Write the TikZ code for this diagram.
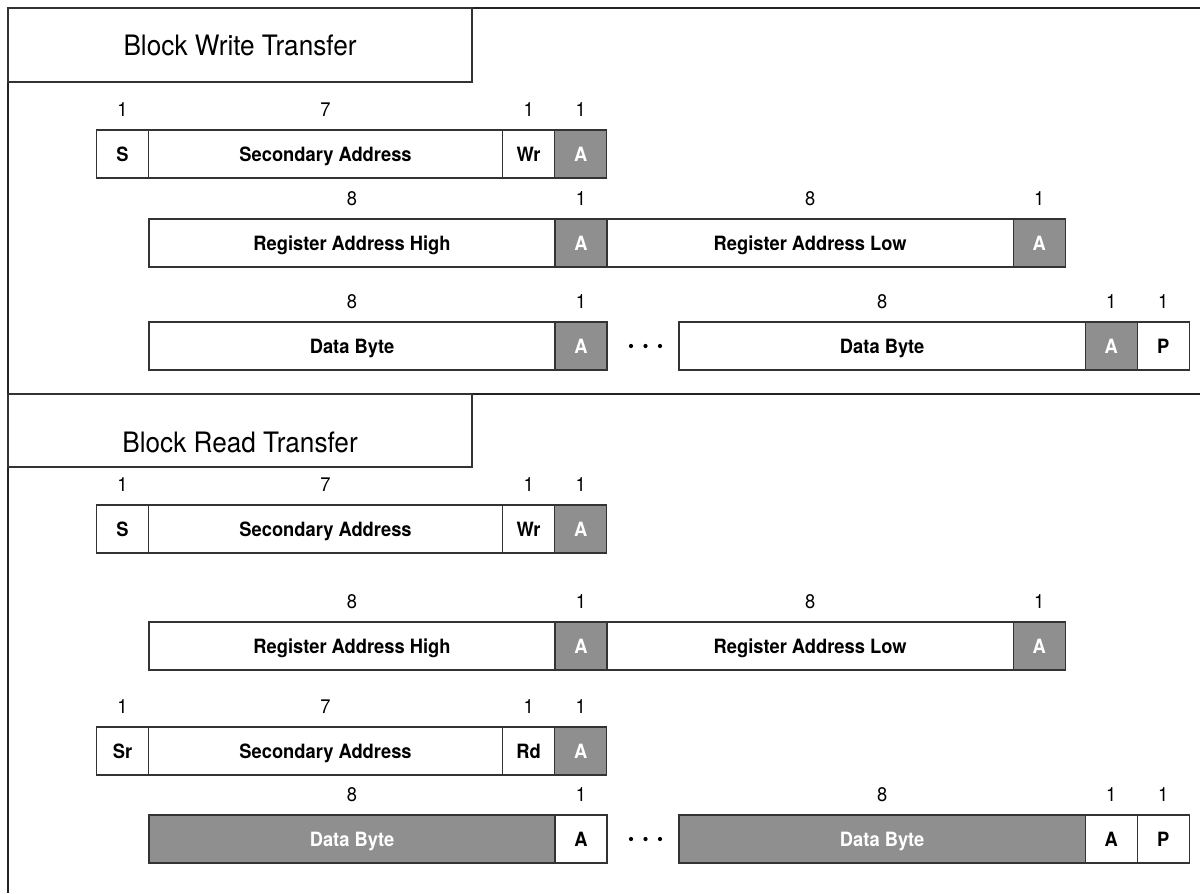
\documentclass[tikz,border=0pt]{standalone}
\usepackage{fontspec}
\setmainfont{TeX Gyre Heros}[FakeStretch=0.93]
\usetikzlibrary{positioning}
\definecolor{frameline}{HTML}{222222}
\definecolor{boxline}{HTML}{333333}
\definecolor{ackgray}{HTML}{8F8F8F}
\tikzset{
  field/.style={rectangle,draw=boxline,line width=0.9pt,fill=white,inner sep=0pt,outer sep=0pt,minimum height=1.2cm,text depth=0pt,font=\fontsize{14}{16}\selectfont\bfseries,text=black},
  shaded/.style={field,fill=ackgray,text=white},
  onebit/.style={minimum width=1.3cm},
  sevenbits/.style={minimum width=8.85cm},
  eightbits/.style={minimum width=10.15cm},
  bitcount/.style={inner sep=0pt,font=\fontsize{14}{16}\selectfont},
  heading/.style={rectangle,draw=boxline,line width=0.9pt,inner sep=0pt,outer sep=0pt,minimum width=11.6cm,text depth=0pt,font=\fontsize{20}{22}\selectfont},
  frame/.style={line width=1.5pt,frameline}
}

\begin{document}
\begin{tikzpicture}[x=0.025cm,y=-0.025cm]
  \useasboundingbox (0,0) rectangle (1200,893);
  \draw[frame] (1200,8) -- (8,8) -- (8,893);
  \draw[frame] (8,394) -- (1200,394);

  % write transfer
  \node[heading,minimum height=1.85cm] (wtitle) at (240,45) {Block Write Transfer};
  \node[field,onebit] (ws) at (122.5,154) {S};
  \node[field,sevenbits,right=0pt of ws] (wsa) {Secondary Address};
  \node[field,onebit,right=0pt of wsa] (wwr) {Wr};
  \node[shaded,onebit,right=0pt of wwr] (wa1) {A};

  \node[field,eightbits] (wrh) at (352,243) {Register Address High};
  \node[shaded,onebit,right=0pt of wrh] (wa2) {A};
  \node[field,eightbits,right=0pt of wa2] (wrl) {Register Address Low};
  \node[shaded,onebit,right=0pt of wrl] (wa3) {A};

  \node[field,eightbits] (wd1) at (352,346) {Data Byte};
  \node[shaded,onebit,right=0pt of wd1] (wa4) {A};
  \node[field,eightbits,right=1.8cm of wa4] (wd2) {Data Byte};
  \node[shaded,onebit,right=0pt of wd2] (wa5) {A};
  \node[field,onebit,right=0pt of wa5] (wp) {P};
  \foreach \x in {631,645.5,660} \fill (\x,346) circle (1.5pt);

  \foreach \b/\n in {ws/1,wsa/7,wwr/1,wa1/1,wrh/8,wa2/1,wrl/8,wa3/1,wd1/8,wa4/1,wd2/8,wa5/1,wp/1}
    \node[bitcount,above=0.33cm of \b] (\b-n) {\n};

  % read transfer
  \node[heading,minimum height=1.825cm,text height=1.1cm] (rtitle) at (240,430.5) {Block Read Transfer};
  \node[field,onebit] (rs) at (122.5,529) {S};
  \node[field,sevenbits,right=0pt of rs] (rsa) {Secondary Address};
  \node[field,onebit,right=0pt of rsa] (rwr) {Wr};
  \node[shaded,onebit,right=0pt of rwr] (ra1) {A};

  \node[field,eightbits] (rrh) at (352,646) {Register Address High};
  \node[shaded,onebit,right=0pt of rrh] (ra2) {A};
  \node[field,eightbits,right=0pt of ra2] (rrl) {Register Address Low};
  \node[shaded,onebit,right=0pt of rrl] (ra3) {A};

  \node[field,onebit] (rsr) at (122.5,751) {Sr};
  \node[field,sevenbits,right=0pt of rsr] (rsa2) {Secondary Address};
  \node[field,onebit,right=0pt of rsa2] (rrd) {Rd};
  \node[shaded,onebit,right=0pt of rrd] (ra4) {A};

  \node[shaded,eightbits] (rd1) at (352,839) {Data Byte};
  \node[field,onebit,right=0pt of rd1] (ra5) {A};
  \node[shaded,eightbits,right=1.8cm of ra5] (rd2) {Data Byte};
  \node[field,onebit,right=0pt of rd2] (ra6) {A};
  \node[field,onebit,right=0pt of ra6] (rp) {P};
  \foreach \x in {631,645.5,660} \fill (\x,839) circle (1.5pt);

  \foreach \b/\n in {rs/1,rsa/7,rwr/1,ra1/1,rrh/8,ra2/1,rrl/8,ra3/1,rsr/1,rsa2/7,rrd/1,ra4/1,rd1/8,ra5/1,rd2/8,ra6/1,rp/1}
    \node[bitcount,above=0.33cm of \b] (\b-n) {\n};
\end{tikzpicture}
\end{document}
